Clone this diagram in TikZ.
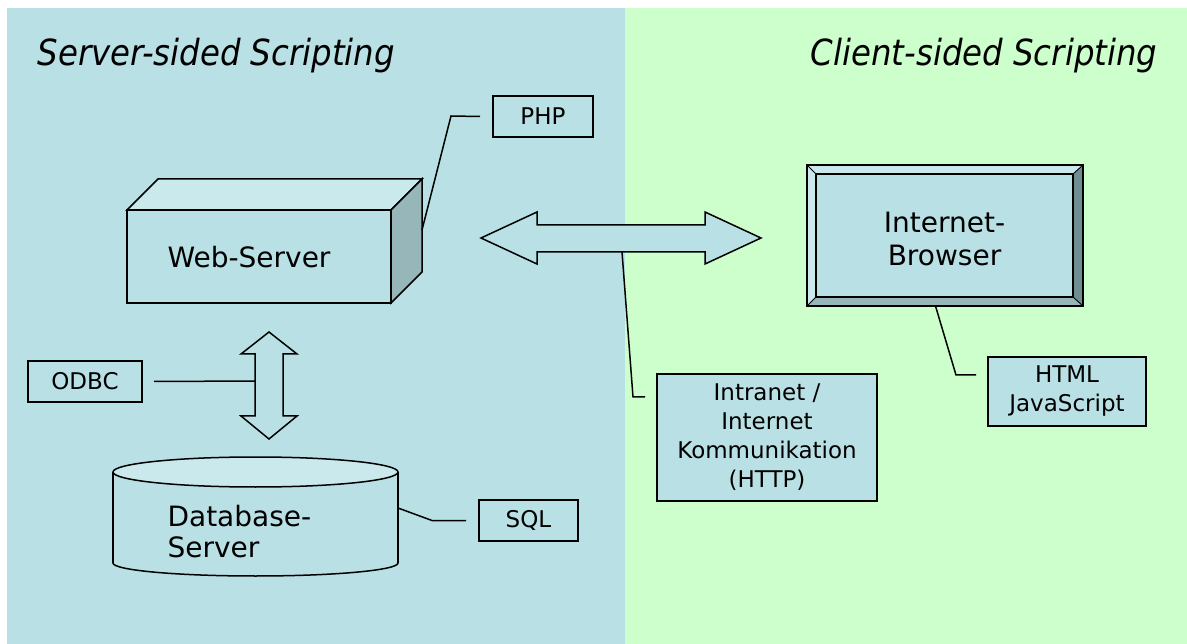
\documentclass[tikz,border=0pt]{standalone}
\usepackage{fontspec}
\setmainfont{DejaVu Sans}
\newfontfamily\headfont[FakeStretch=0.9]{DejaVu Sans}
\usepackage{xcolor}
\usepackage{tikz}
\usetikzlibrary{positioning}
\definecolor{srvbg}{RGB}{185,224,228}
\definecolor{clibg}{RGB}{204,255,204}
\definecolor{facetop}{RGB}{202,233,237}
\definecolor{faceside}{RGB}{150,182,186}
\definecolor{bevdark}{RGB}{112,142,145}
\tikzset{box/.style={draw,fill=srvbg,line width=1.5pt,outer sep=0pt,inner sep=0pt,align=center,font=\fontsize{23}{29}\selectfont}}
\tikzset{big/.style={draw,fill=srvbg,line width=1.5pt,outer sep=0pt,inner sep=0pt,align=center,font=\fontsize{28}{33}\selectfont}}
\tikzset{conn/.style={line width=1.5pt}}
\tikzset{head/.style={font=\headfont\itshape\fontsize{36}{40}\selectfont}}

\begin{document}
\begin{tikzpicture}[x=1pt,y=-1pt]
    \useasboundingbox (0,0) rectangle (1187,644);
    \fill[white] (0,0) rectangle (1187,644);
    \fill[srvbg] (7,8) rectangle (625,644);
    \fill[clibg] (625,8) rectangle (1187,644);

    \node[head,anchor=base west] (lhead) at (34,66) {Server-sided Scripting};
    \node[head,anchor=base east] (rhead) at (1161,66) {Client-sided Scripting};

    % web server block
    \node[big,minimum width=264,minimum height=93,
        label={[font=\fontsize{28}{33}\selectfont,xshift=-10pt,yshift=-1pt]center:Web-Server}] (ws) at (259,256.5) {};
    \filldraw[fill=facetop,conn] (ws.north west) -- ++(31,-31) -- ++(264,0) -- (ws.north east) -- cycle;
    \filldraw[fill=faceside,conn] (ws.north east) -- ++(31,-31) -- ++(0,93) -- (ws.south east) -- cycle;
    \coordinate (wsside) at (422,230);

    % browser with bevelled frame
    \node[big,minimum width=257,minimum height=123,line width=1pt,
        label={[font=\fontsize{28}{33}\selectfont,align=center,yshift=-3pt]center:Internet-\\Browser}] (brw) at (944.5,235.5) {};
    \coordinate (o1) at ([shift={(-9,-9)}]brw.north west);
    \coordinate (o2) at ([shift={(10,-9)}]brw.north east);
    \coordinate (o3) at ([shift={(10,9)}]brw.south east);
    \coordinate (o4) at ([shift={(-9,9)}]brw.south west);
    \fill[facetop] (o1) -- (o2) -- (brw.north east) -- (brw.north west) -- cycle;
    \fill[bevdark] (o2) -- (o3) -- (brw.south east) -- (brw.north east) -- cycle;
    \fill[faceside] (o3) -- (o4) -- (brw.south west) -- (brw.south east) -- cycle;
    \fill[facetop] (o4) -- (o1) -- (brw.north west) -- (brw.south west) -- cycle;
    \draw[line width=0.9pt] (o1) -- (brw.north west) (o2) -- (brw.north east)
        (o3) -- (brw.south east) (o4) -- (brw.south west);
    \draw[line width=1.6pt] (o1) -- (o2) -- (o3) -- (o4) -- cycle;
    \draw[line width=1.2pt] (brw.north west) rectangle (brw.south east);

    % database
    \fill[srvbg] (255.5,563) ellipse [x radius=142.5, y radius=13];
    \draw[conn] (255.5,563) ellipse [x radius=142.5, y radius=13];
    \fill[srvbg] (113,472) rectangle (398,563);
    \draw[conn] (113,472) -- (113,563) (398,472) -- (398,563);
    \filldraw[fill=facetop,conn] (255.5,472) ellipse [x radius=142.5, y radius=15];
    \node[anchor=west,align=left,font=\fontsize{28}{31}\selectfont] (dbtxt) at (164,532) {Database-\\Server};
    \coordinate (dbside) at (398,508);

    % double arrows
    \filldraw[fill=srvbg,conn] (481,238) -- (537,212) -- (537,225) -- (705,225) -- (705,212) -- (761,238)
        -- (705,264) -- (705,252) -- (537,252) -- (537,264) -- cycle;
    \coordinate (httpfoot) at (622,252);
    \filldraw[fill=srvbg,conn] (269,332) -- (297,354) -- (283,354) -- (283,416) -- (297,416) -- (269,439)
        -- (241,416) -- (255,416) -- (255,354) -- (241,354) -- cycle;
    \coordinate (odbcfoot) at (255,381);

    % labels
    \node[box,minimum width=100,minimum height=41] (php) at (543,116.5) {PHP};
    \node[box,minimum width=114,minimum height=41] (odbc) at (85,381.5) {ODBC};
    \node[box,minimum width=99,minimum height=41] (sql) at (528.5,520.5) {SQL};
    \node[box,minimum width=220,minimum height=127] (inet) at (767,437.5) {Intranet /\\Internet\\Kommunikation\\(HTTP)};
    \node[box,minimum width=158,minimum height=69] (html) at (1067,391.5) {HTML\\JavaScript};
    \coordinate (inettick) at (645,397);
    \coordinate (htmltick) at (976,375);

    \draw[conn] (wsside) -- (451,116) -- ([xshift=-13pt]php.west);
    \draw[conn] ([xshift=12pt]odbc.east) -- (odbcfoot);
    \draw[conn] (dbside) -- (432,520.5) -- ([xshift=-13pt]sql.west);
    \draw[conn] (httpfoot) -- (633,397) -- (inettick);
    \draw[conn] ([xshift=-9pt]brw.south |- o4) -- (956,375) -- (htmltick);
\end{tikzpicture}
\end{document}
